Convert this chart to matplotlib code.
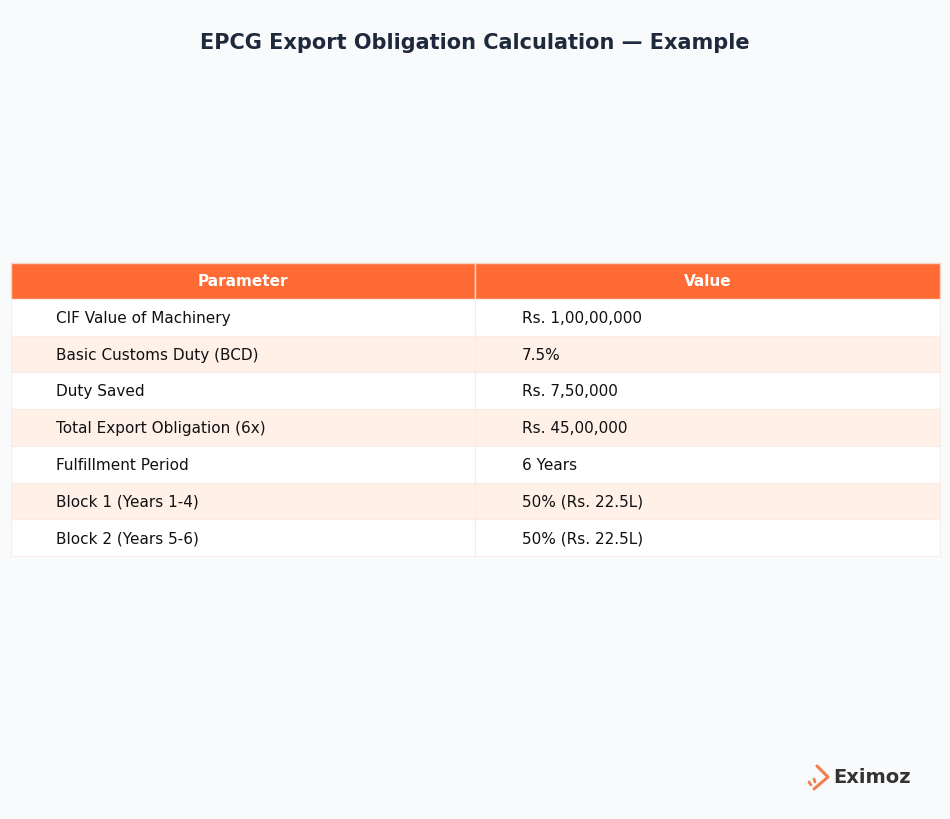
import matplotlib
matplotlib.use("Agg")
import matplotlib.pyplot as plt
from matplotlib.patches import Rectangle

headers = ["Parameter", "Value"]
params = ["CIF Value of Machinery", "Basic Customs Duty (BCD)", "Duty Saved",
          "Total Export Obligation (6x)", "Fulfillment Period",
          "Block 1 (Years 1-4)", "Block 2 (Years 5-6)"]
values = ["Rs. 1,00,00,000", "7.5%", "Rs. 7,50,000", "Rs. 45,00,000",
          "6 Years", "50% (Rs. 22.5L)", "50% (Rs. 22.5L)"]

W, H = 950, 820
fig = plt.figure(figsize=(W / 100, H / 100), dpi=100)
fig.patch.set_facecolor("#f8fafc")
ax = fig.add_axes([0, 0, 1, 1])
ax.set_xlim(0, W)
ax.set_ylim(H, 0)
ax.axis("off")

ax.text(475, 43, "EPCG Export Obligation Calculation \u2014 Example", ha="center", va="center",
        fontsize=15, fontweight="bold", color="#1e293b")

x0, xm, x1 = 11, 475, 940
top, hh, rh = 264, 36, 36.7
orange = "#ff6b35"
ax.add_patch(Rectangle((x0, top), xm - x0, hh, fc=orange, ec="#f8d5c5", lw=1))
ax.add_patch(Rectangle((xm, top), x1 - xm, hh, fc=orange, ec="#f8d5c5", lw=1))
for i, h in enumerate(headers):
    cx = (x0 + xm) / 2 if i == 0 else (xm + x1) / 2
    ax.text(cx, top + hh / 2, h, ha="center", va="center", fontsize=11,
            fontweight="bold", color="white")

for r, (p, v) in enumerate(zip(params, values)):
    y = top + hh + r * rh
    fc = "white" if r % 2 == 0 else "#fff0e8"
    ax.add_patch(Rectangle((x0, y), xm - x0, rh, fc=fc, ec="#f8ece4", lw=0.8))
    ax.add_patch(Rectangle((xm, y), x1 - xm, rh, fc=fc, ec="#f8ece4", lw=0.8))
    ax.text(x0 + 45, y + rh / 2, p, ha="left", va="center", fontsize=11, color="#111111")
    ax.text(xm + 47, y + rh / 2, v, ha="left", va="center", fontsize=11, color="#111111")

# logo: chevron with small dashes
logo = "#f08050"
ax.plot([817, 828, 814], [767, 778, 790], color=logo, lw=2.2, solid_capstyle="round")
ax.plot([809, 811], [783, 786], color=logo, lw=2, solid_capstyle="round")
ax.plot([814, 815], [780, 783], color=logo, lw=2, solid_capstyle="round")
ax.text(833, 778, "Eximoz", ha="left", va="center", fontsize=14, fontweight="semibold",
        color="#333333")

fig.savefig("out.png", dpi=100, facecolor=fig.get_facecolor())
